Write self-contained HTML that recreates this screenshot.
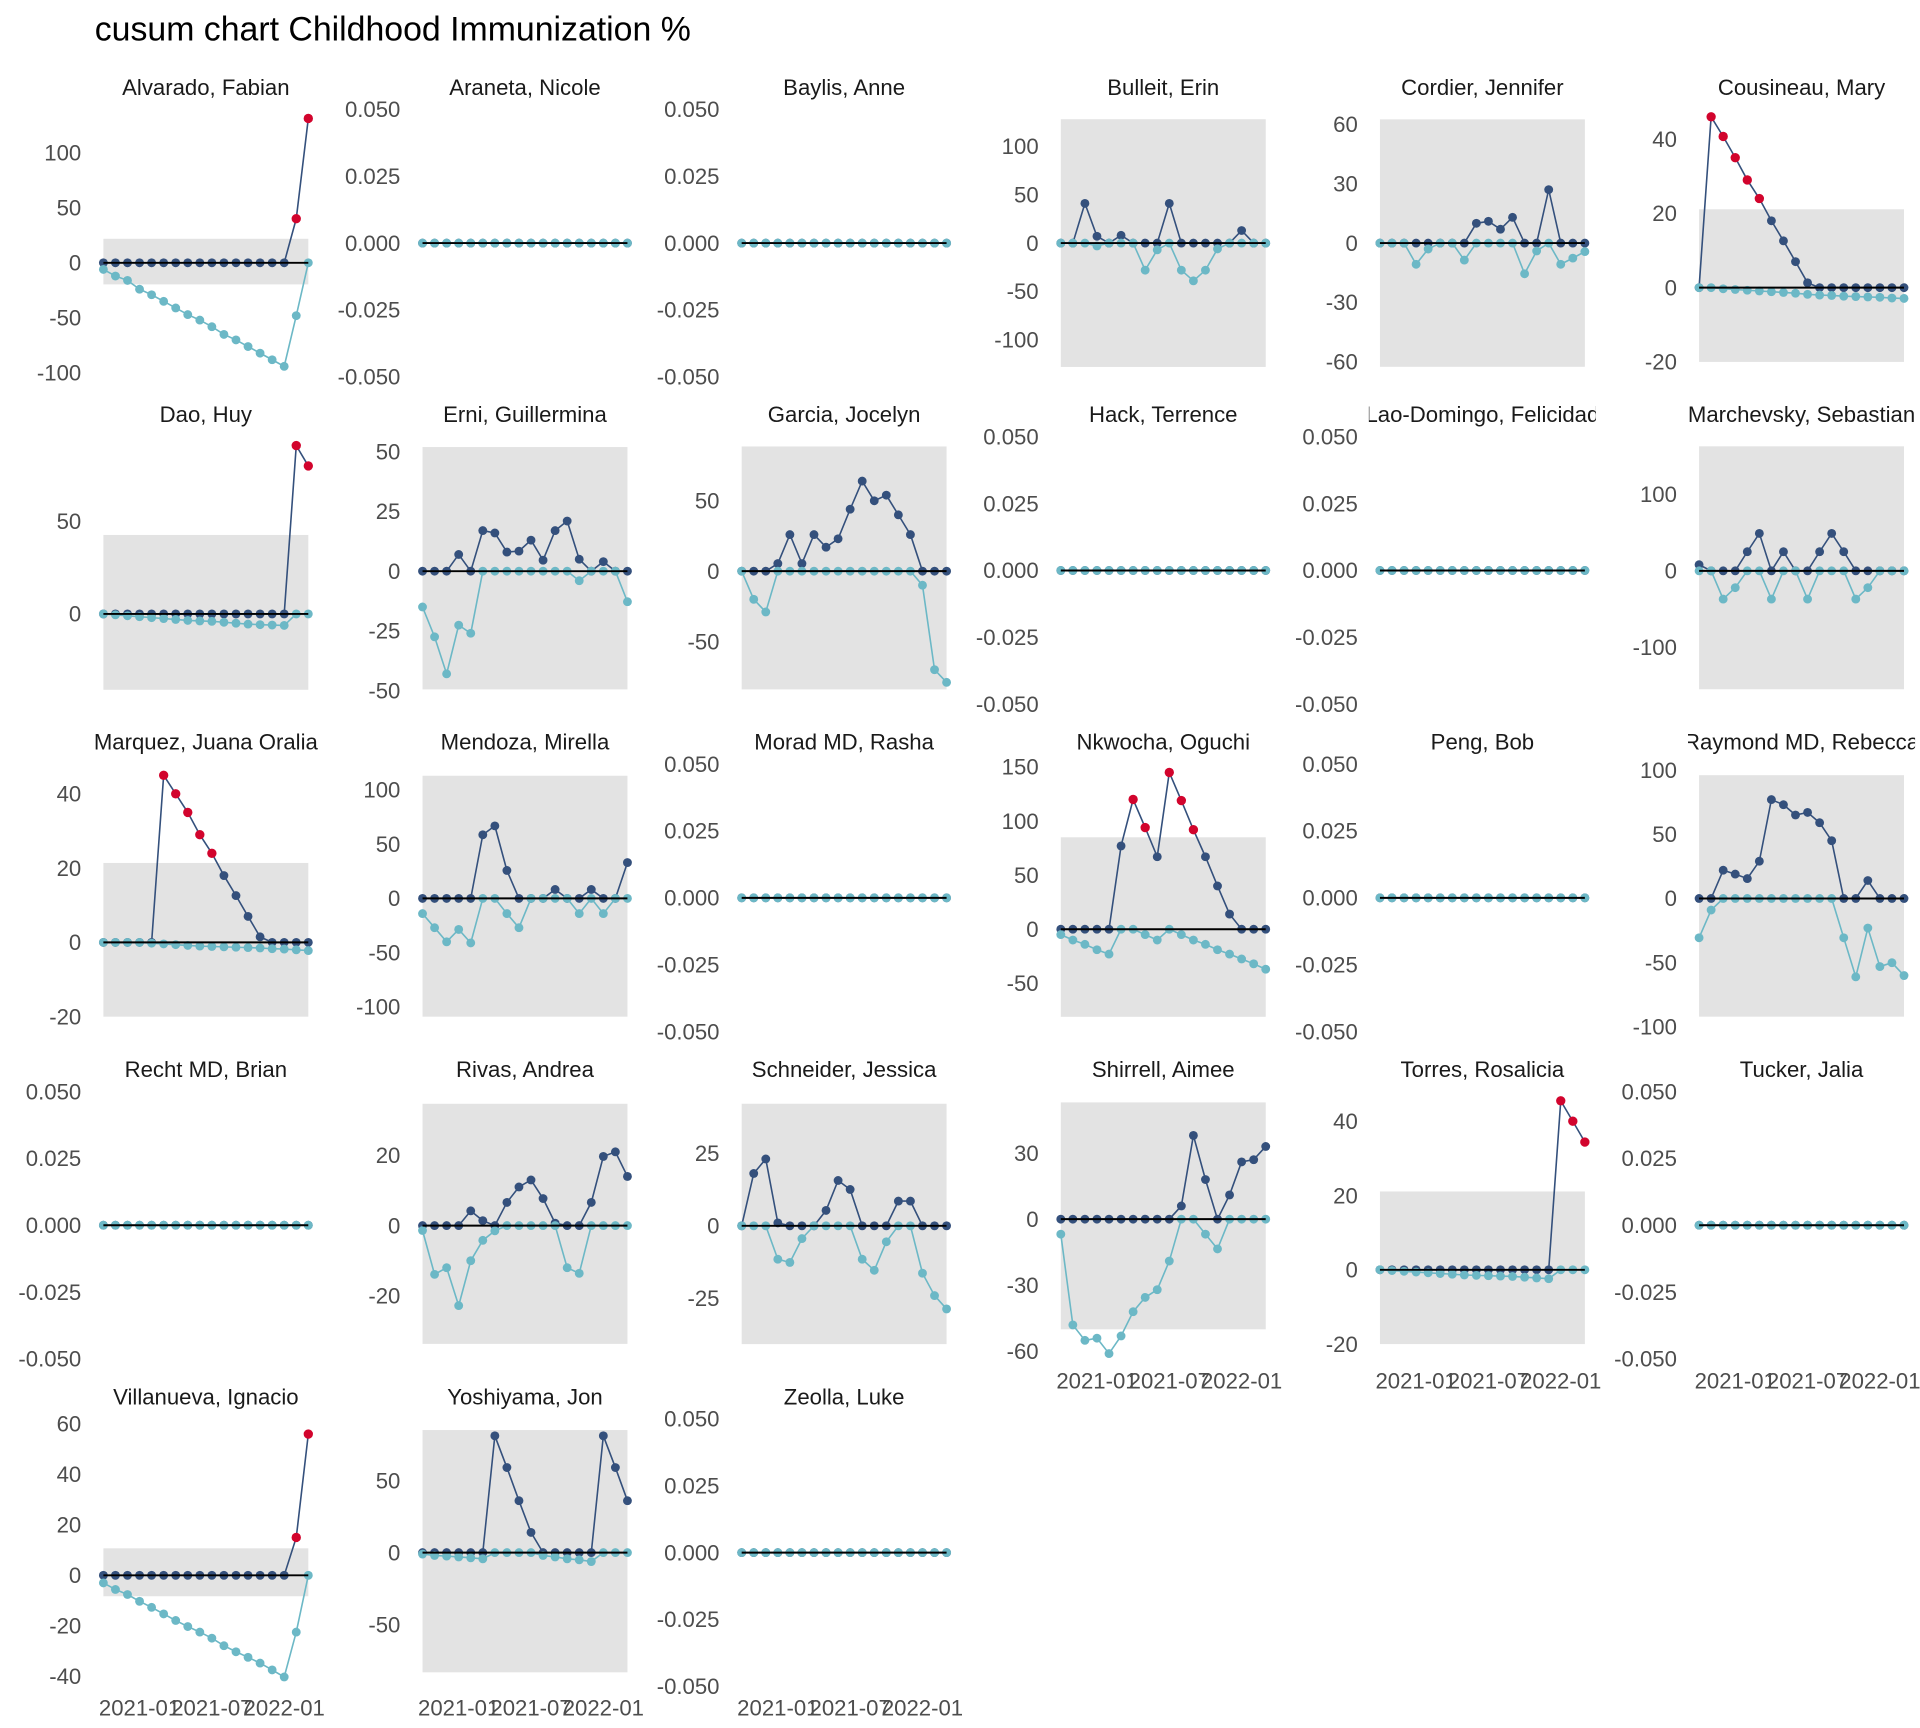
<!DOCTYPE html>
<html><head><meta charset="utf-8"><title>cusum chart Childhood Immunization %</title>
<style>
html,body{margin:0;padding:0;background:#fff;}
svg{display:block;font-family:"Liberation Sans",Arial,sans-serif;}
</style></head>
<body>
<svg id="chart" width="1920" height="1728" viewBox="0 0 1560 1404" xmlns="http://www.w3.org/2000/svg">
<rect x="0" y="0" width="1560" height="1404" fill="#ffffff"/>
<text x="77" y="33" font-size="27.5" fill="#000">cusum chart Childhood Immunization %</text>
</svg>
<script>
const Z18 = [0,0,0,0,0,0,0,0,0,0,0,0,0,0,0,0,0,0];
const xTickLabels = ["2021-01","2021-07","2022-01"];
const xTickIndex = [3,9,15];

const upperAlvarado = [0,0,0,0,0,0,0,0,0,0,0,0,0,0,0,0,40,131];
const lowerAlvarado = [-6,-12,-16,-24,-29,-35,-41,-47,-52,-58,-65,-70,-76,-82,-88,-94,-48,0];
const upperBulleit = [0,0,41,7,0,8,0,0,0,41,0,0,0,0,0,13,0,0];
const lowerBulleit = [0,0,0,-3,0,0,0,-28,-7,0,-28,-39,-28,-6,0,0,0,0];
const upperCordier = [0,0,0,0,0,0,0,0,10,11,7,13,0,0,27,0,0,0];
const lowerCordier = [0,0,0,-10.7,-3,0,0,-8.6,0,0,0,0,-15.5,-4,0,-10.7,-7.6,-4.3];
const upperCousineau = [0,46,40.7,35,29,24,18,12.6,7,1.3,0,0,0,0,0,0,0,0];
const lowerCousineau = [0,0,-0.3,-0.5,-0.7,-0.9,-1.1,-1.3,-1.5,-1.8,-2,-2.1,-2.3,-2.4,-2.5,-2.6,-2.8,-2.9];
const upperDao = [0,0,0,0,0,0,0,0,0,0,0,0,0,0,0,0,91,80];
const lowerDao = [0,-0.5,-1,-1.5,-2,-2.5,-3,-3.5,-3.8,-4,-4.5,-5,-5.5,-5.8,-6,-6.2,0,0];
const upperErni = [0,0,0,7,0,17,16,8,8.4,13,4.6,17,21,5,0,4,0,0];
const lowerErni = [-15,-27.5,-43,-22.6,-26,0,0,0,0,0,0,0,0,-4,0,0,0,-12.8];
const upperGarcia = [0,0,0,5.4,26,5.4,26,17,23,44,64,50,54,40,26,0,0,0];
const lowerGarcia = [0,-20,-29,0,0,0,0,0,0,0,0,0,0,0,0,-10,-70,-79];
const upperMarchevsky = [8,0,0,0,25,49,0,25,0,0,25,49,25,0,0,0,0,0];
const lowerMarchevsky = [0,0,-37,-22,0,0,-37,0,0,-37,0,0,0,-37,-22,0,0,0];
const upperMarquez = [0,0,0,0,0,45,40,35,29,24,18,12.6,7,1.5,0,0,0,0];
const lowerMarquez = [0,0,0,0,-0.2,-0.4,-0.6,-0.8,-1,-1.1,-1.2,-1.3,-1.4,-1.5,-1.7,-1.8,-2,-2.2];
const upperMendoza = [0,0,0,0,0,58.6,66.8,25.7,0,0,0,8.2,0,0,8.2,0,0,33];
const lowerMendoza = [-14,-27,-40,-28.6,-41,0,0,-14,-27,0,0,0,0,-14,0,-14,0,0];
const upperNkwocha = [0,0,0,0,0,77,120,94,67,145,119,92,67,40,14,0,0,0];
const lowerNkwocha = [-5,-10,-14,-19,-23,0,0,-5,-10,0,-5,-10,-14,-19,-23,-27.5,-32,-37];
const upperRaymond = [0,0,22,19,15.5,29,77,73,65,67,59,45,0,0,14,0,0,0];
const lowerRaymond = [-30.6,-9,0,0,0,0,0,0,0,0,0,0,-30.6,-61,-23,-53,-50,-60];
const upperRivas = [0,0,0,0,4.2,1.4,0,6.6,11,13,7.7,0.7,0,0,6.6,19.7,21,14];
const lowerRivas = [-1.4,-13.9,-12,-22.8,-10,-4.2,-1.5,0,0,0,0,0,-12,-13.6,0,0,0,0];
const upperSchneider = [0,18,23,1,0,0,0,5.3,15.6,12.5,0,0,0,8.5,8.5,0,0,0];
const lowerSchneider = [0,0,0,-11.5,-12.6,-4.4,0,0,0,0,-11.5,-15.3,-5.5,0,0,-16.3,-24,-28.6];
const upperShirrell = [0,0,0,0,0,0,0,0,0,0,6,38,18,0,11,26,27,33];
const lowerShirrell = [-6.8,-48,-55,-54,-61,-53,-42,-35.5,-32,-19,0,0,-6.8,-13.5,0,0,0,0];
const upperTorres = [0,0,0,0,0,0,0,0,0,0,0,0,0,0,0,45.5,40,34.4];
const lowerTorres = [0,-0.2,-0.4,-0.6,-0.8,-1,-1.2,-1.4,-1.5,-1.6,-1.7,-1.8,-2,-2.2,-2.4,0,0,0];
const upperVillanueva = [0,0,0,0,0,0,0,0,0,0,0,0,0,0,0,0,15,56];
const lowerVillanueva = [-3,-5.6,-7.6,-10.3,-12.7,-15.3,-17.9,-20.3,-22.5,-24.9,-27.9,-30.3,-32.5,-34.8,-37.5,-40.3,-22.5,0];
const upperYoshiyama = [0,0,0,0,0,0,81,59,36,14,0,0,0,0,0,81,59,36];
const lowerYoshiyama = [-1,-2,-2.4,-3,-3.6,-4.3,0,0,0,0,-2,-3,-4.3,-5,-6.2,0,0,0];

const zeroTicks = [-0.05,-0.025,0,0.025,0.05];
const zeroLim = [-0.055,0.055];

const panels = [
 {name:"Alvarado, Fabian", up:upperAlvarado, lo:lowerAlvarado, ylim:[-115.6,151.4], ticks:[-100,-50,0,50,100], band:[-19.6,21.8]},
 {name:"Araneta, Nicole", up:Z18, lo:Z18, ylim:zeroLim, ticks:zeroTicks, band:null},
 {name:"Baylis, Anne", up:Z18, lo:Z18, ylim:zeroLim, ticks:zeroTicks, band:null},
 {name:"Bulleit, Erin", up:upperBulleit, lo:lowerBulleit, ylim:[-152,152], ticks:[-100,-50,0,50,100], band:[-128,128]},
 {name:"Cordier, Jennifer", up:upperCordier, lo:lowerCordier, ylim:[-74.3,74.3], ticks:[-60,-30,0,30,60], band:[-62.5,62.5]},
 {name:"Cousineau, Mary", up:upperCousineau, lo:lowerCousineau, ylim:[-27.6,51.6], ticks:[-20,0,20,40], band:[-20,21.1]},
 {name:"Dao, Huy", up:upperDao, lo:lowerDao, ylim:[-56,103], ticks:[0,50], band:[-41,42.7]},
 {name:"Erni, Guillermina", up:upperErni, lo:lowerErni, ylim:[-61.3,61.9], ticks:[-50,-25,0,25,50], band:[-49.5,52]},
 {name:"Garcia, Jocelyn", up:upperGarcia, lo:lowerGarcia, ylim:[-104,105], ticks:[-50,0,50], band:[-84,88.6]},
 {name:"Hack, Terrence", up:Z18, lo:Z18, ylim:zeroLim, ticks:zeroTicks, band:null},
 {name:"Lao-Domingo, Felicidad", up:Z18, lo:Z18, ylim:zeroLim, ticks:zeroTicks, band:null},
 {name:"Marchevsky, Sebastian", up:upperMarchevsky, lo:lowerMarchevsky, ylim:[-192,193], ticks:[-100,0,100], band:[-155,163]},
 {name:"Marquez, Juana Oralia", up:upperMarquez, lo:lowerMarquez, ylim:[-27.6,51.6], ticks:[-20,0,20,40], band:[-20,21.4]},
 {name:"Mendoza, Mirella", up:upperMendoza, lo:lowerMendoza, ylim:[-135,136], ticks:[-100,-50,0,50,100], band:[-109,113]},
 {name:"Morad MD, Rasha", up:Z18, lo:Z18, ylim:zeroLim, ticks:zeroTicks, band:null},
 {name:"Nkwocha, Oguchi", up:upperNkwocha, lo:lowerNkwocha, ylim:[-107,165], ticks:[-50,0,50,100,150], band:[-81,85]},
 {name:"Peng, Bob", up:Z18, lo:Z18, ylim:zeroLim, ticks:zeroTicks, band:null},
 {name:"Raymond MD, Rebecca", up:upperRaymond, lo:lowerRaymond, ylim:[-114,115], ticks:[-100,-50,0,50,100], band:[-92,96]},
 {name:"Recht MD, Brian", up:Z18, lo:Z18, ylim:zeroLim, ticks:zeroTicks, band:null},
 {name:"Rivas, Andrea", up:upperRivas, lo:lowerRivas, ylim:[-41.8,42], ticks:[-20,0,20], band:[-33.7,34.7]},
 {name:"Schneider, Jessica", up:upperSchneider, lo:lowerSchneider, ylim:[-50.4,50.8], ticks:[-25,0,25], band:[-40.7,42]},
 {name:"Shirrell, Aimee", up:upperShirrell, lo:lowerShirrell, ylim:[-69.5,64], ticks:[-60,-30,0,30], band:[-50,53]},
 {name:"Torres, Rosalicia", up:upperTorres, lo:lowerTorres, ylim:[-27.6,51.6], ticks:[-20,0,20,40], band:[-20,21.1]},
 {name:"Tucker, Jalia", up:Z18, lo:Z18, ylim:zeroLim, ticks:zeroTicks, band:null},
 {name:"Villanueva, Ignacio", up:upperVillanueva, lo:lowerVillanueva, ylim:[-49.3,67.3], ticks:[-40,-20,0,20,40,60], band:[-8.3,10.7]},
 {name:"Yoshiyama, Jon", up:upperYoshiyama, lo:lowerYoshiyama, ylim:[-102,102], ticks:[-50,0,50], band:[-83,85]},
 {name:"Zeolla, Luke", up:Z18, lo:Z18, ylim:zeroLim, ticks:zeroTicks, band:null}
];

const NS = "http://www.w3.org/2000/svg";
const svg = document.getElementById("chart");
const X0 = 84, COLSTEP = 259.3, PW = 166.5, T0 = 78, ROWSTEP = 266, PH = 239;
const DARK = "#34507c", LIGHT = "#6cb8c6", RED = "#d2042d", GREY = "#e3e3e3";
const defs = document.createElementNS(NS, "defs");
svg.appendChild(defs);

function mk(tag, attrs, parent) {
  const e = document.createElementNS(NS, tag);
  for (const k in attrs) e.setAttribute(k, attrs[k]);
  (parent || svg).appendChild(e);
  return e;
}
function slug(s){return s.toLowerCase().replace(/[^a-z]+/g,"-").replace(/^-|-$/g,"");}

panels.forEach((p, idx) => {
  const row = Math.floor(idx / 6), col = idx % 6;
  const left = X0 + col * COLSTEP, top = T0 + row * ROWSTEP;
  const n = p.up.length;
  const xs = i => left + i * PW / (n - 1);
  const ys = v => top + (p.ylim[1] - v) / (p.ylim[1] - p.ylim[0]) * PH;
  const g = mk("g", {});
  
  

  const cp = mk("clipPath", {id: "clip" + idx}, defs);
  mk("rect", {x: left - 9, y: top - 20, width: PW + 18, height: 26}, cp);
  const title = mk("text", {x: left + PW / 2, y: top - 1, "text-anchor": "middle", "font-size": 18, fill: "#1a1a1a", "clip-path": "url(#clip" + idx + ")"}, g);
  title.textContent = p.name;
  
  

  p.ticks.forEach(t => {
    const lab = mk("text", {x: left - 18, y: ys(t) + 6.3, "text-anchor": "end", "font-size": 18, fill: "#4d4d4d"}, g);
    lab.textContent = p.band ? String(t) : t.toFixed(3);
    
    
  });

  if (p.band) {
    const r = mk("rect", {x: left, y: ys(p.band[1]), width: PW, height: ys(p.band[0]) - ys(p.band[1]), fill: GREY}, g);
    
    
  }

  const upPts = p.up.map((v, i) => xs(i).toFixed(2) + "," + ys(v).toFixed(2)).join(" ");
  const upLine = mk("polyline", {points: upPts, fill: "none", stroke: DARK, "stroke-width": 1.3}, g);
  
  
  p.up.forEach((v, i) => {
    if (p.band && v > p.band[1]) return;
    const c = mk("circle", {cx: xs(i), cy: ys(v), r: 3.6, fill: DARK}, g);
    
    
  });
  const loPts = p.lo.map((v, i) => xs(i).toFixed(2) + "," + ys(v).toFixed(2)).join(" ");
  const loLine = mk("polyline", {points: loPts, fill: "none", stroke: LIGHT, "stroke-width": 1.3}, g);
  
  
  p.lo.forEach((v, i) => {
    const c = mk("circle", {cx: xs(i), cy: ys(v), r: 3.6, fill: LIGHT}, g);
    
    
  });
  p.up.forEach((v, i) => {
    if (!(p.band && v > p.band[1])) return;
    const c = mk("circle", {cx: xs(i), cy: ys(v), r: 3.8, fill: RED}, g);
    
    
  });
  const zl = mk("line", {x1: left, x2: left + PW, y1: ys(0), y2: ys(0), stroke: "#000", "stroke-width": 1.6}, g);
  
  

  const bottom = (row === 4) || (row === 3 && col >= 3);
  if (bottom) {
    xTickLabels.forEach((lab, k) => {
      const t = mk("text", {x: xs(xTickIndex[k]), y: top + PH + 13, "text-anchor": "middle", "font-size": 18, fill: "#4d4d4d"}, g);
      t.textContent = lab;
      
      
    });
  }
});
</script>
</body></html>
